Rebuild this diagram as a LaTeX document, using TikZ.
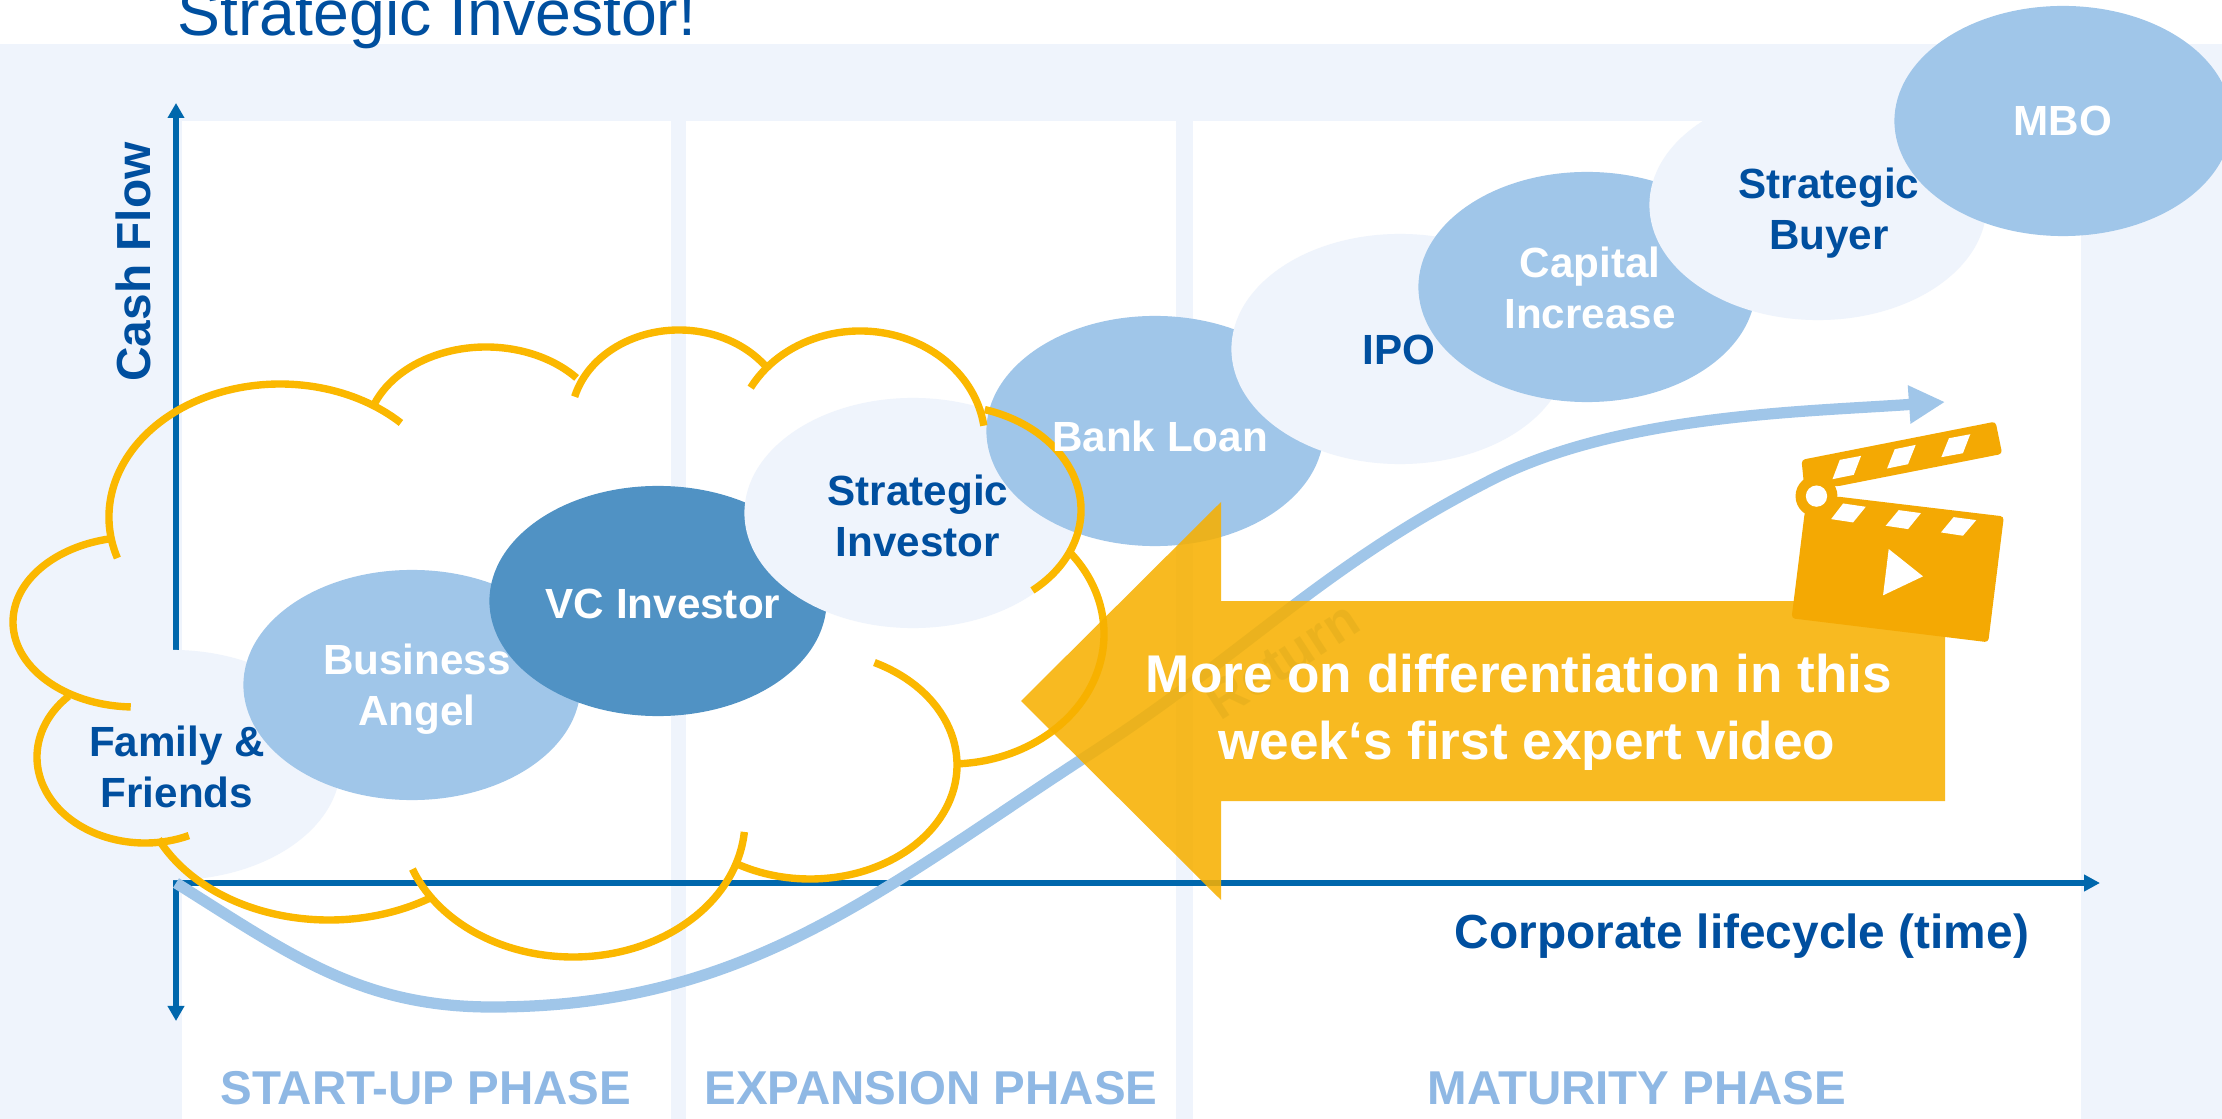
\documentclass[tikz,border=0pt]{standalone}
\usepackage{fontspec}
\setmainfont{Liberation Sans}
\usetikzlibrary{arrows.meta,shapes.geometric}
\definecolor{palepanel}{HTML}{EFF4FC}
\definecolor{lightblue}{HTML}{A0C6E9}
\definecolor{midblue}{HTML}{5092C4}
\definecolor{textblue}{HTML}{004F9F}
\definecolor{axisblue}{HTML}{0067AC}
\definecolor{phaseblue}{HTML}{8FB8E4}
\definecolor{cloudgold}{HTML}{FBB800}
\definecolor{arrowgold}{HTML}{F7B000}
\definecolor{clapgold}{HTML}{F4A903}
\tikzset{
  bubble/.style={ellipse, inner sep=0pt, minimum width=3.37cm, minimum height=2.3cm},
  axisline/.style={color=axisblue, line width=1.5pt},
  cloudarc/.style={color=cloudgold, line width=2.1pt},
  phaselabel/.style={inner sep=0pt, color=phaseblue, font=\fontsize{13.5}{16}\selectfont\bfseries},
  whitelabel/.style={inner sep=0pt, align=center, color=white, font=\fontsize{12}{14.4}\selectfont\bfseries},
  bluelabel/.style={inner sep=0pt, align=center, color=textblue, font=\fontsize{12}{14.4}\selectfont\bfseries},
  axislabel/.style={inner sep=0pt, color=textblue, font=\fontsize{13.6}{16}\selectfont\bfseries}
}
\newcommand{\cloudlobe}[6]{\draw[cloudarc] (#1,#2) ++(#5:#3 and #4) arc[start angle=#5, end angle=#6, x radius=#3, y radius=#4];}

\begin{document}
\begin{tikzpicture}[x=0.01cm, y=-0.01cm]
  \useasboundingbox (0,0) rectangle (2222,1119);

  \coordinate (origin) at (176,883);
  \coordinate (cashtop) at (176,103);
  \coordinate (cashbottom) at (176,1021);
  \coordinate (timeend) at (2100,883);

  % panel and phases
  \fill[palepanel] (0,44) rectangle (2222,1119);
  \fill[white] (182,121) rectangle (671,1119);
  \fill[white] (686,121) rectangle (1176,1119);
  \fill[white] (1193,121) rectangle (2081,1119);
  \node[inner sep=0pt, anchor=base west, color=textblue, font=\fontsize{18.3}{22}\selectfont] (title) at (177,36) {Strategic Investor!};
  \node[phaselabel] (startup) at (426,1088) {START-UP PHASE};
  \node[phaselabel] (expansion) at (931,1088) {EXPANSION PHASE};
  \node[phaselabel] (maturity) at (1637,1088) {MATURITY PHASE};

  % axes
  \draw[axisline, -{Triangle[length=0.15cm, width=0.16cm]}] (origin) -- (cashtop);
  \draw[axisline, -{Triangle[length=0.15cm, width=0.16cm]}] (origin) -- (cashbottom);
  \draw[axisline, -{Triangle[length=0.16cm, width=0.16cm]}] (origin) -- (timeend);
  \node[axislabel, rotate=90] (cashflow) at (133,262) {Cash Flow};
  \node[axislabel] (lifecycle) at (1742,936) {Corporate lifecycle (time)};

  % investor bubbles
  \node[bubble, fill=palepanel] (family) at (172,765) {};
  \node[bubble, fill=lightblue] (angel) at (412,685) {};
  \node[bubble, fill=midblue] (vc) at (658,601) {};
  \node[bubble, fill=palepanel] (strategic) at (913,513) {};
  \node[bubble, fill=lightblue] (bank) at (1155,431) {};
  \node[bubble, fill=palepanel] (ipo) at (1400,349) {};
  \node[bubble, fill=lightblue] (capital) at (1587,287) {};
  \node[bubble, fill=palepanel] (buyer) at (1818,205) {};
  \node[bubble, fill=lightblue] (mbo) at (2063,121) {};

  % return curve
  \draw[color=lightblue, line width=3.2pt, -{Triangle[length=0.36cm, width=0.36cm]}] (origin) to[out=-32, in=180] (492,1007) to[out=0, in=213] (1090,754) to[out=33, in=207] (1491,480) to[out=27, in=184, looseness=0.8] (1945,402);
  \node[color=lightblue, rotate=33, inner sep=0pt, font=\fontsize{15}{18}\selectfont\bfseries] (return) at (1282,660) {Return};

  % cloud
  \cloudlobe{280}{517}{171}{133}{162}{315}
  \cloudlobe{486}{437}{120}{90}{202}{319}
  \cloudlobe{679}{420}{108}{90}{195}{324}
  \cloudlobe{860}{441}{125}{110}{209}{352}
  \cloudlobe{945}{510}{136}{105}{-73}{50}
  \cloudlobe{950}{634}{154}{130}{-39}{87}
  \cloudlobe{810}{765}{147}{114}{-64}{121}
  \cloudlobe{573}{820}{172}{137}{5}{159}
  \cloudlobe{329}{780}{188}{140}{58}{155}
  \cloudlobe{145}{757}{108}{86}{66}{225}
  \cloudlobe{135}{622}{122}{85}{92}{258}

  % big arrow
  \fill[arrowgold, opacity=0.87] (1021,701) -- (1221,502) -- (1221,601) -- (1945,601) -- (1945,801) -- (1221,801) -- (1221,900) -- cycle;

  % clapperboard
  \begin{scope}[shift={(1700,380)}, x=0.00333cm, y=-0.00333cm]
    \fill[clapgold, rounded corners=1pt] (315,395) -- (410,350) -- (913,410) -- (866,788) -- (275,716) -- cycle;
    \fill[clapgold, rounded corners=1pt] (305,240) -- (888,125) -- (908,222) -- (410,320) -- (312,310) -- cycle;
    \fill[clapgold] (350,349) circle (63);
    \fill[white] (350,349) circle (32);
    \fill[white] (420,240) -- (484,228) -- (462,285) -- (398,298) -- cycle;
    \fill[white] (585,208) -- (648,195) -- (625,253) -- (562,266) -- cycle;
    \fill[white] (748,175) -- (812,163) -- (790,220) -- (725,232) -- cycle;
    \fill[white] (430,371) -- (498,381) -- (460,428) -- (394,418) -- cycle;
    \fill[white] (597,391) -- (664,400) -- (625,448) -- (558,438) -- cycle;
    \fill[white] (762,412) -- (830,421) -- (790,468) -- (724,458) -- cycle;
    \fill[white] (567,508) -- (670,590) -- (550,647) -- cycle;
  \end{scope}

  % labels
  \node[bluelabel] (familylabel) at (177,767) {Family \&\\Friends};
  \node[whitelabel] (angellabel) at (417,689) {Business\\Angel};
  \node[whitelabel] (vclabel) at (663,604) {VC Investor};
  \node[bluelabel] (strategiclabel) at (918,516) {Strategic\\Investor};
  \node[whitelabel] (banklabel) at (1160,436) {Bank Loan};
  \node[bluelabel] (ipolabel) at (1399,350) {IPO};
  \node[whitelabel] (capitallabel) at (1590,288) {Capital\\Increase};
  \node[bluelabel] (buyerlabel) at (1829,213) {Strategic\\Buyer};
  \node[whitelabel] (mbolabel) at (2063,121) {MBO};
  \node[inner sep=0pt, align=center, color=white, font=\fontsize{15.1}{19}\selectfont\bfseries] (videolabel) at (1519,712) {More on differentiation in this\\\hspace*{0.16cm}week‘s first expert video};
\end{tikzpicture}
\end{document}
